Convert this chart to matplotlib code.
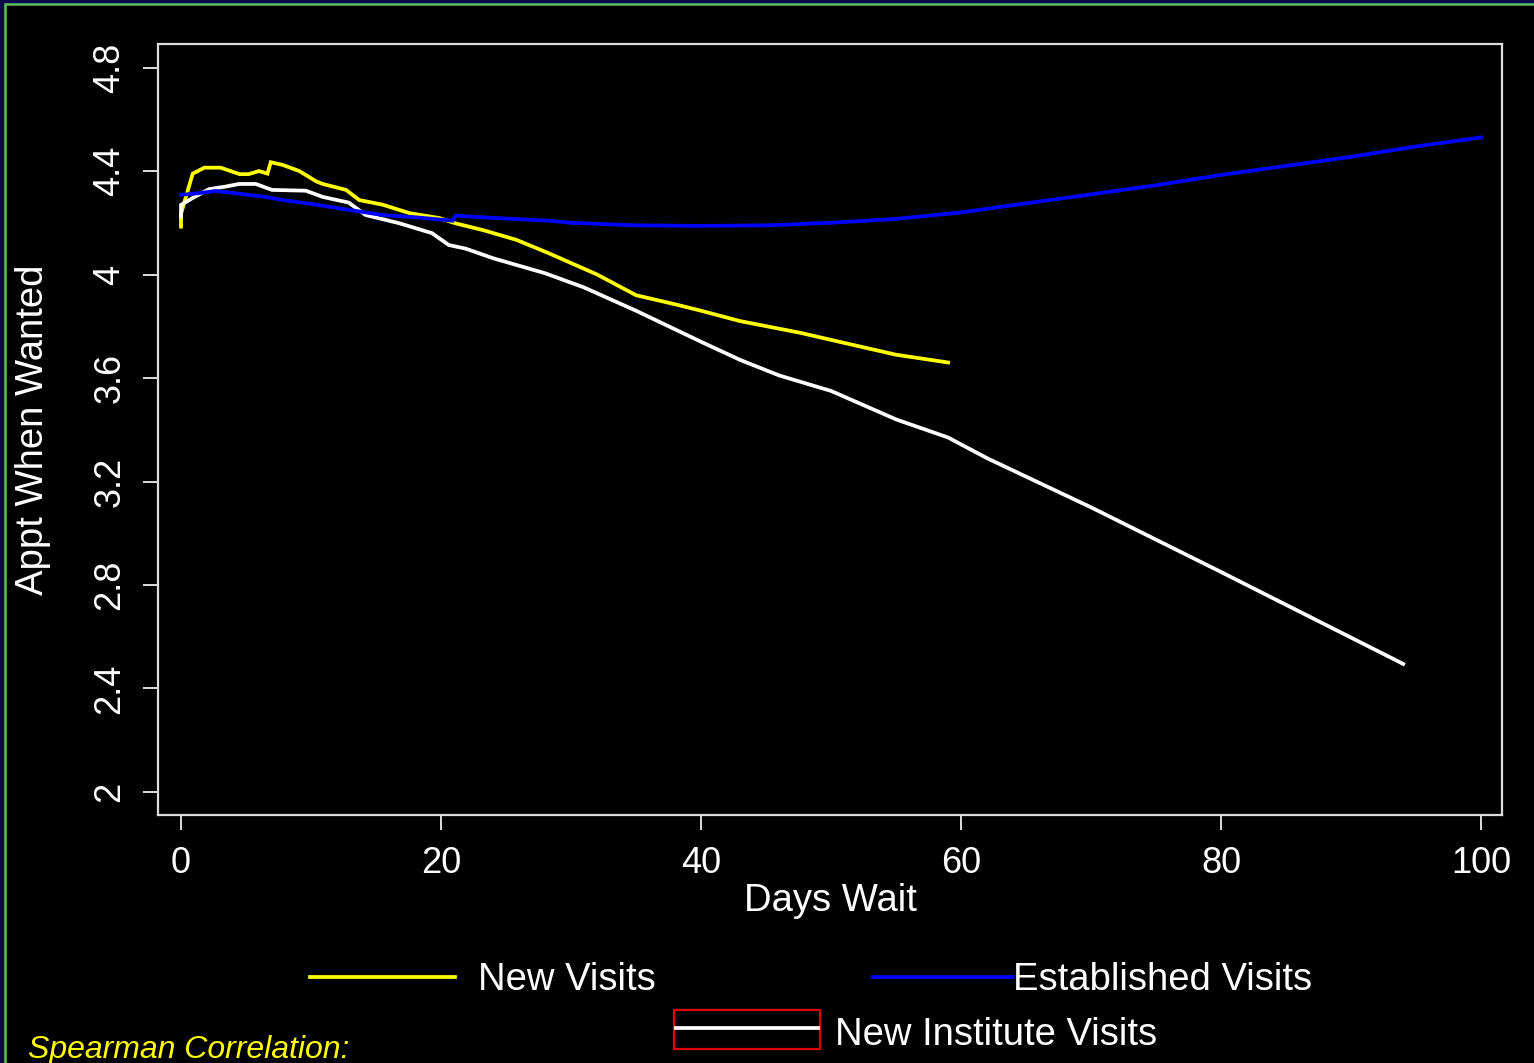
import matplotlib.pyplot as plt
from matplotlib.lines import Line2D
from matplotlib.patches import Rectangle

# Smoothed "appointment when wanted" score against days waited
days_new = [0, 0, 0.9, 1.8, 3.05, 4.5, 5.2, 6.0, 6.65, 6.9, 7.8, 9.1, 10.4, 10.9,
            12.7, 13.7, 15.5, 17.6, 19.9, 21.1, 23.2, 25.8, 28.3, 32, 35, 38,
            40, 43, 47.6, 51.5, 55, 59]
score_new = [4.185, 4.235, 4.39, 4.413, 4.413, 4.388, 4.388, 4.40, 4.39, 4.434,
             4.424, 4.40, 4.36, 4.35, 4.327, 4.288, 4.27, 4.237, 4.218, 4.198,
             4.172, 4.134, 4.082, 4.0, 3.92, 3.885, 3.86, 3.82, 3.775, 3.73,
             3.69, 3.66]

days_est = [0, 1.3, 2.67, 5.2, 6.5, 7.8, 10.4, 12.9, 15.5, 18.1, 20.9, 21.1,
            23.2, 28.3, 30, 35, 40, 45, 50, 55, 60, 65, 70, 75, 80, 85, 90,
            95, 100]
score_est = [4.308, 4.314, 4.323, 4.308, 4.30, 4.288, 4.27, 4.25, 4.23, 4.221,
             4.208, 4.228, 4.221, 4.208, 4.20, 4.19, 4.188, 4.19, 4.20, 4.215,
             4.24, 4.275, 4.31, 4.345, 4.385, 4.42, 4.455, 4.495, 4.53]

days_inst = [0, 0, 0.87, 2.16, 3.44, 4.46, 5.75, 7.0, 9.6, 10.9, 12.9, 14.2,
             16.8, 19.3, 20.6, 21.9, 24.0, 28, 31, 35, 40, 43, 46, 50, 55, 59,
             62, 70, 80, 94]
score_inst = [4.224, 4.269, 4.295, 4.33, 4.34, 4.35, 4.35, 4.327, 4.324, 4.30,
              4.278, 4.23, 4.198, 4.16, 4.114, 4.10, 4.063, 4.005, 3.95, 3.86,
              3.74, 3.67, 3.61, 3.55, 3.44, 3.37, 3.29, 3.10, 2.85, 2.495]

x_ticks = [0, 20, 40, 60, 80, 100]
y_ticks = [2, 2.4, 2.8, 3.2, 3.6, 4, 4.4, 4.8]
y_tick_labels = ["2", "2.4", "2.8", "3.2", "3.6", "4", "4.4", "4.8"]

W, H = 1534, 1063
plt.rcParams["font.family"] = ["Liberation Sans", "DejaVu Sans"]

fig = plt.figure(figsize=(W / 100, H / 100), dpi=100)
fig.patch.set_facecolor("#0a0a4a")


def fx(px):
    return px / W


def fy(py):
    return 1 - py / H


# black slide panel with thin green frame
fig.add_artist(Rectangle((fx(5), fy(H + 20)), fx(W + 40), (H + 16.5) / H,
                         transform=fig.transFigure, facecolor="black",
                         edgecolor="#5cc060", linewidth=1.8, zorder=0))

ax = fig.add_axes([fx(158), fy(815), fx(1502) - fx(158), fy(44) - fy(815)])
ax.set_facecolor("black")

lw = 2.7
ax.plot(days_new, score_new, color="#ffff00", lw=lw, solid_joinstyle="miter")
ax.plot(days_inst, score_inst, color="white", lw=lw, solid_joinstyle="miter")
ax.plot(days_est, score_est, color="#0000ff", lw=lw, solid_joinstyle="miter")

ax.set_xlim(-1.77, 101.6)
ax.set_ylim(1.911, 4.891)
ax.set_xticks(x_ticks)
ax.set_yticks(y_ticks)
ax.set_yticklabels(y_tick_labels, rotation=90, va="center")

for s in ax.spines.values():
    s.set_color("#dcdcdc")
    s.set_linewidth(1.6)
ax.tick_params(colors="#dcdcdc", labelcolor="white", length=11, width=1.4,
               labelsize=26, pad=11)

ax.set_xlabel("Days Wait", color="white", fontsize=27.5, labelpad=2)
ax.set_ylabel("Appt When Wanted", color="white", fontsize=27.5, labelpad=30)

# legend drawn below the plot
legend_rows = [
    ("New Visits", "#ffff00", 310, 455, 977, 478, 980),
    ("Established Visits", "#0000ff", 873, 1013, 977, 1013, 980),
    ("New Institute Visits", "white", 676, 818, 1028, 835, 1035),
]
for label, color, x0, x1, yl, xt, yt in legend_rows:
    fig.add_artist(Line2D([fx(x0), fx(x1)], [fy(yl), fy(yl)], color=color,
                          lw=lw, transform=fig.transFigure))
    fig.text(fx(xt), fy(yt), label, color="white", fontsize=27.5,
             ha="left", va="center")

fig.add_artist(Rectangle((fx(674), fy(1049)), fx(820) - fx(674),
                         fy(1010) - fy(1049), transform=fig.transFigure,
                         fill=False, edgecolor="#e00000", linewidth=1.6))

fig.text(fx(28), fy(1058), "Spearman Correlation:", color="#ffff00",
         fontsize=23, style="italic", ha="left", va="baseline")

fig.savefig("out.png", dpi=100, facecolor=fig.get_facecolor())
